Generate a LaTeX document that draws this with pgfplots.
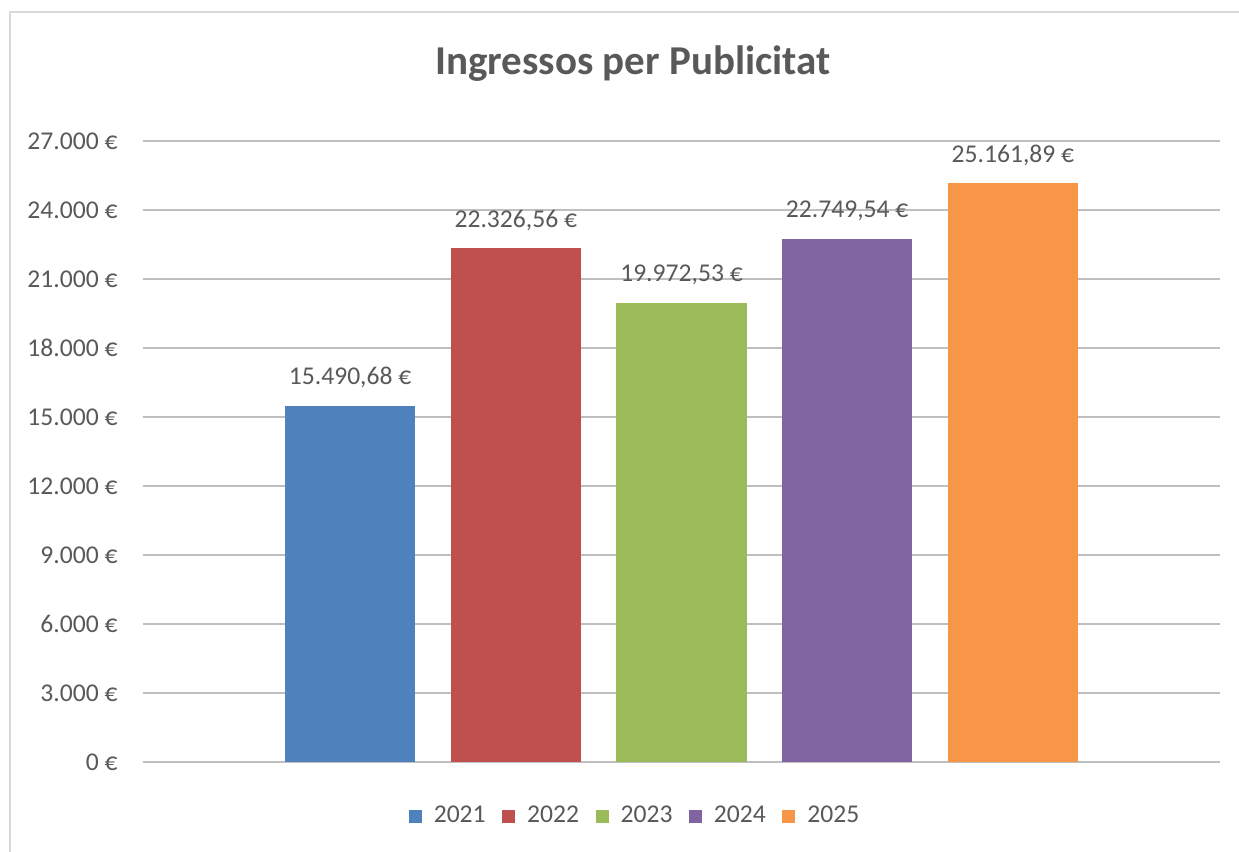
\documentclass[border=0pt]{standalone}
\usepackage{pgfplots}
\pgfplotsset{compat=1.18}
\usepackage{fontspec}
\setmainfont{Carlito}
\definecolor{txt}{HTML}{595959}
\definecolor{grid}{HTML}{D9D9D9}
\definecolor{c1}{HTML}{4F81BD}
\definecolor{c2}{HTML}{C0504D}
\definecolor{c3}{HTML}{9BBB59}
\definecolor{c4}{HTML}{8064A2}
\definecolor{c5}{HTML}{F79646}
\begin{document}
\begin{tikzpicture}
\useasboundingbox (-71.5pt,-45pt) rectangle (548pt,381pt);
\fill[white] (-71.5pt,-45pt) rectangle (548pt,381pt);
\draw[grid, line width=1pt] (-66.5pt,-46pt) -- (-66.5pt,375pt) -- (549pt,375pt);
\begin{axis}[
  at={(0pt,0pt)}, anchor=south west,
  scale only axis,
  width=538.5pt, height=310.5pt,
  xmin=-1.25, xmax=5.25,
  ymin=0, ymax=27000,
  enlargelimits=false,
  scaled y ticks=false,
  axis line style={draw=none},
  xtick=\empty,
  ytick={0,3000,...,27000},
  yticklabels={0 €,3.000 €,6.000 €,9.000 €,12.000 €,15.000 €,18.000 €,21.000 €,24.000 €,27.000 €},
  major tick length=0pt,
  ymajorgrids,
  grid style={grid, line width=0.8pt},
  yticklabel style={font=\fontsize{12.8}{15}\selectfont, text=txt, inner sep=0pt, xshift=-12.5pt, anchor=east},
  legend columns=5,
  legend style={draw=none, fill=none, at={(0.4578,-0.087)}, anchor=center,
    font=\fontsize{12.8}{15}\selectfont, text=txt, inner sep=0pt,
    /tikz/every odd column/.append style={column sep=4pt},
    /tikz/every even column/.append style={column sep=6.25pt}},
  legend image code/.code={\fill[#1] (0pt,-3.25pt) rectangle (6.5pt,3.25pt);},
  every node near coord/.append style={font=\fontsize{12.8}{15}\selectfont, text=txt, anchor=base, inner sep=0pt, yshift=10.4pt},
]
\addplot[ybar, bar width=65pt, bar shift=0pt, fill=c1, draw=none, nodes near coords={15.490,68 €}] coordinates {(0,15490.68)};
\addlegendentry{2021}
\addplot[ybar, bar width=65pt, bar shift=0pt, fill=c2, draw=none, nodes near coords={22.326,56 €}] coordinates {(1,22326.56)};
\addlegendentry{2022}
\addplot[ybar, bar width=65pt, bar shift=0pt, fill=c3, draw=none, nodes near coords={19.972,53 €}] coordinates {(2,19972.53)};
\addlegendentry{2023}
\addplot[ybar, bar width=65pt, bar shift=0pt, fill=c4, draw=none, nodes near coords={22.749,54 €}] coordinates {(3,22749.54)};
\addlegendentry{2024}
\addplot[ybar, bar width=65pt, bar shift=0pt, fill=c5, draw=none, nodes near coords={25.161,89 €}] coordinates {(4,25161.89)};
\addlegendentry{2025}
\end{axis}
\node[anchor=base, inner sep=0pt, text=txt, font=\fontsize{20.5}{24}\selectfont\bfseries] at (245pt,343.5pt) {Ingressos per Publicitat};
\end{tikzpicture}
\end{document}
